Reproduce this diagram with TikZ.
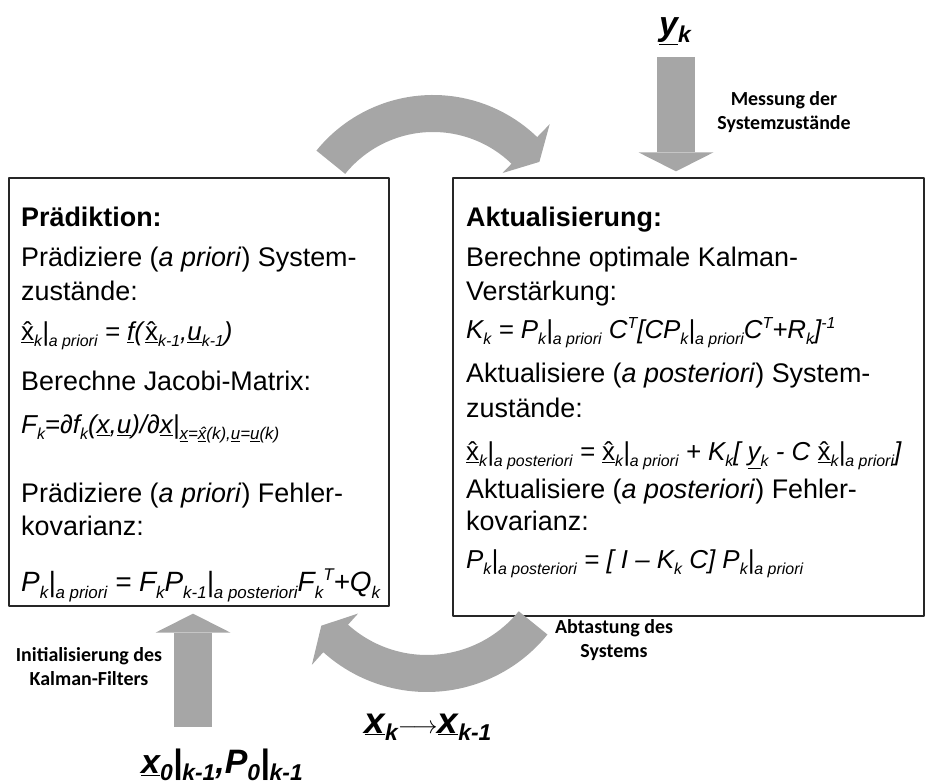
\documentclass[tikz,border=0pt]{standalone}
\usepackage{fontspec}
\setmainfont{Liberation Sans}
\newfontfamily\calibri{Carlito}
\usetikzlibrary{arrows.meta,calc}
\definecolor{arrgray}{RGB}{166,166,166}
\definecolor{boxline}{RGB}{38,38,38}
\newcommand{\losize}{16}
\newcommand{\lo}[1]{\raisebox{-0.22em}{\fontsize{\losize}{\losize}\selectfont #1}}
\newcommand{\tlo}[1]{\raisebox{-0.22em}{\fontsize{17}{17}\selectfont #1}}
\newcommand{\hi}[1]{\raisebox{0.42em}{\fontsize{\losize}{\losize}\selectfont #1}}
\newcommand{\blo}[1]{\raisebox{-0.2em}{\fontsize{23}{23}\selectfont #1}}
\newcommand{\vx}{\textup{\underline{\^{x}}}}

\begin{document}
\begin{tikzpicture}[>=latex,line join=bevel,
  txt/.style={anchor=base west,inner sep=0pt,font=\fontsize{27}{30}\selectfont},
  frm/.style={txt,font=\fontsize{26}{30}\selectfont\itshape},
  hd/.style={txt,font=\fontsize{27}{30}\selectfont\bfseries},
  box/.style={draw=boxline,line width=1.3bp,inner sep=0pt},
  lbl/.style={align=center,inner sep=0pt,font=\calibri\bfseries\fontsize{20}{24}\selectfont},
  big/.style={inner sep=0pt,font=\fontsize{34}{40}\selectfont\bfseries\itshape},
  fat/.style={draw=arrgray,line width=38bp,-{Triangle[length=19bp,width=75bp,line width=0pt]}},
  blockarr/.style={fill=arrgray},
]
\useasboundingbox (0,0) rectangle (933bp,784bp);
%%
\node (pred) at (199.0bp,392.0bp) [box,minimum width=380bp,minimum height=428bp] {};
  \node (upd) at (688.5bp,387.0bp) [box,minimum width=471bp,minimum height=438bp] {};
%
\node (pred_1) at (21.0bp,557.0bp) [hd] {Prädiktion:};
  \node (pred_2) at (21.0bp,517.0bp) [txt] {Prädiziere (\textit{a priori}) System-};
  \node (pred_3) at (21.0bp,483.0bp) [txt] {zustände:};
  \node (pred_4) at (21.0bp,443.0bp) [frm] {\vx\lo{k}|\lo{a priori} = \underline{f}(\vx\lo{k-1},\underline{u}\lo{k-1})};
  \node (pred_5) at (21.0bp,393.0bp) [txt] {Berechne Jacobi-Matrix:};
  \node (pred_6) at (21.0bp,350.0bp) [frm] {F\lo{k}=∂f\lo{k}(\underline{x},\underline{u})/∂\underline{x}|\tlo{\underline{x}=\underline{\^{x}}(k),\underline{u}=\underline{u}(k)}};
  \node (pred_7) at (21.0bp,281.0bp) [txt] {Prädiziere (\textit{a priori}) Fehler-};
  \node (pred_8) at (21.0bp,248.0bp) [txt] {kovarianz:};
  \node (pred_9) at (21.0bp,192.0bp) [frm,font=\fontsize{28}{30}\selectfont\itshape\renewcommand{\losize}{17}] {P\lo{k}|\lo{a priori} = F\lo{k}P\lo{k-1}|\lo{a posteriori}F\lo{k}\hi{T}+Q\lo{k}};
%
\node (upd_1) at (466.0bp,557.0bp) [hd] {Aktualisierung:};
  \node (upd_2) at (466.0bp,517.0bp) [txt] {Berechne optimale Kalman-};
  \node (upd_3) at (466.0bp,483.0bp) [txt] {Verstärkung:};
  \node (upd_4) at (466.0bp,445.0bp) [frm] {K\lo{k} = P\lo{k}|\lo{a priori} C\hi{T}[CP\lo{k}|\lo{a priori}C\hi{T}+R\lo{k}]\hi{-1}};
  \node (upd_5) at (466.0bp,401.0bp) [txt] {Aktualisiere (\textit{a posteriori}) System-};
  \node (upd_6) at (466.0bp,366.0bp) [txt] {zustände:};
  \node (upd_7) at (466.0bp,323.0bp) [frm] {\vx\lo{k}|\lo{a posteriori} = \vx\lo{k}|\lo{a priori} + K\lo{k}[ \underline{y}\lo{k} - C \vx\lo{k}|\lo{a priori}]};
  \node (upd_8) at (466.0bp,285.0bp) [txt] {Aktualisiere (\textit{a posteriori}) Fehler-};
  \node (upd_9) at (466.0bp,253.0bp) [txt] {kovarianz:};
  \node (upd_10) at (466.0bp,215.0bp) [frm] {P\lo{k}|\lo{a posteriori} = [ I – K\lo{k} C] P\lo{k}|\lo{a priori}};
%
\node (yk) at (675.0bp,753.0bp) [big] {\underline{y}\blo{k}};
  \node (x0) at (222.0bp,19.0bp) [big] {\underline{x}\blo{0}|\blo{k-1},P\blo{0}|\blo{k-1}};
  \node (xk) at (428.0bp,57.0bp) [big,font=\fontsize{37}{40}\selectfont\bfseries\itshape] {\underline{x}\blo{k}{\fontsize{25}{25}\selectfont$\longrightarrow$}\underline{x}\blo{k-1}};
  \node (meas) at (784.0bp,672.0bp) [lbl] {Messung der\\Systemzustände};
  \node (init) at (89.0bp,117.0bp) [lbl] {Initialisierung des\\Kalman-Filters};
  \node (samp) at (614.0bp,144.0bp) [lbl] {Abtastung des\\Systems};
%
\coordinate (ytail) at (676.0bp,727.0bp);
  \coordinate (x0tail) at (193.0bp,57.0bp);
  \coordinate (topc) at (433.0bp,539.0bp);
  \coordinate (botc) at (427.0bp,247.0bp);
  \draw [fat] (ytail) -- ([yshift=6bp]upd.north -| ytail);
  \draw [fat] (x0tail) -- ([yshift=-7bp]pred.south -| x0tail);
  \fill [blockarr] ($(topc)+(141:150bp)$) arc [start angle=141,end angle=46,radius=150bp]
    -- ($(topc)+(46:168bp)$) -- ($(topc)+(38:135bp)$) -- ($(topc)+(46:100bp)$)
    -- ($(topc)+(46:113bp)$) arc [start angle=46,end angle=141,radius=113bp] -- cycle;
  \fill [blockarr] ($(botc)+(-39:155bp)$) arc [start angle=-39,end angle=-132,radius=155bp]
    -- ($(botc)+(-132:172bp)$) -- ($(botc)+(-140:138bp)$) -- ($(botc)+(-132:103bp)$)
    -- ($(botc)+(-132:118bp)$) arc [start angle=-132,end angle=-39,radius=118bp] -- cycle;
%
\end{tikzpicture}
\end{document}
